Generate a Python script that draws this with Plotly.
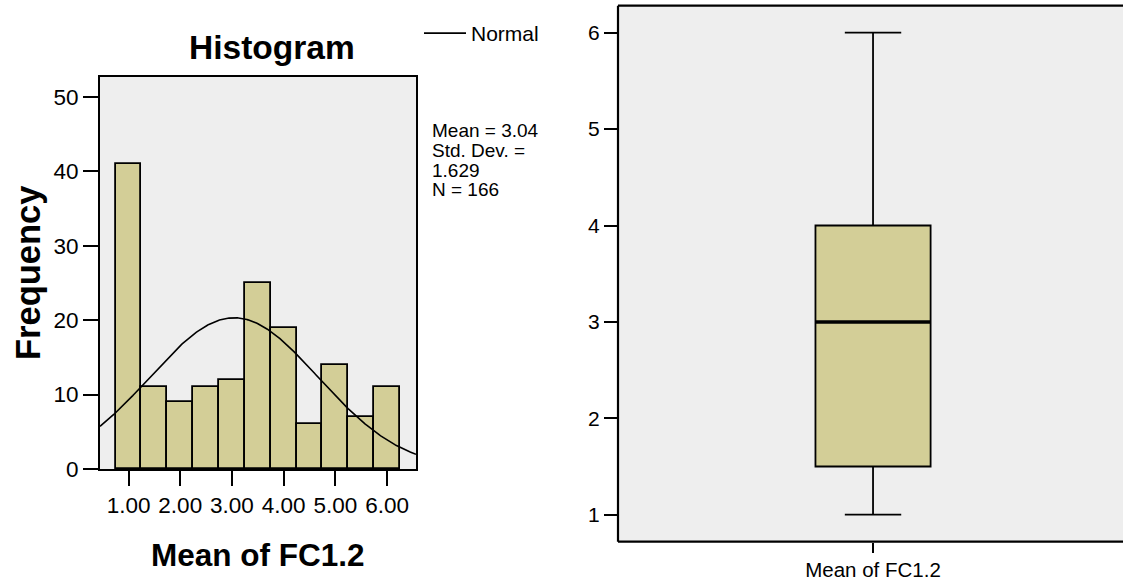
import numpy as np
import plotly.graph_objects as go

# ---------------- data ----------------
bin_centers = [1.0, 1.5, 2.0, 2.5, 3.0, 3.5, 4.0, 4.5, 5.0, 5.5, 6.0]
frequencies = [41, 11, 9, 11, 12, 25, 19, 6, 14, 7, 11]
BIN_WIDTH = 0.5
MEAN = 3.04
SD = 1.629
N = 166
hist_xticks = [1, 2, 3, 4, 5, 6]
hist_yticks = [0, 10, 20, 30, 40, 50]

box_category = ["Mean of FC1.2"]
box_min = [1.0]
box_q1 = [1.5]
box_median = [3.0]
box_q3 = [4.0]
box_max = [6.0]
box_yticks = [1, 2, 3, 4, 5, 6]

stats_lines = ["Mean = 3.04", "Std. Dev. =", "1.629", "N = 166"]

# ---------------- style ----------------
W, H = 1123, 580
BAR_FILL = "rgb(211,206,151)"
BG = "rgb(238,238,238)"
FONT = "Liberation Sans, Arial, sans-serif"
HIST_XRANGE = [0.448, 6.56]
HIST_YRANGE = [0, 52.7]
BOX_WIDTH = 0.228
BOX_LEFT, BOX_TOP, BOX_BOTTOM = 618, 5.7, 541.7


def px_x(p):
    return p / W


def px_y(p):
    return 1 - p / H


# normal curve from the reported statistics
curve_x = np.linspace(HIST_XRANGE[0], HIST_XRANGE[1], 300)
curve_y = N * BIN_WIDTH * np.exp(-0.5 * ((curve_x - MEAN) / SD) ** 2) / (SD * np.sqrt(2 * np.pi))

fig = go.Figure()

fig.add_trace(go.Bar(
    x=bin_centers, y=frequencies, width=BIN_WIDTH,
    marker=dict(color=BAR_FILL, line=dict(color="black", width=1.8)),
    xaxis="x", yaxis="y", showlegend=False, hoverinfo="x+y",
))
fig.add_trace(go.Scatter(
    x=curve_x, y=curve_y, mode="lines", name="Normal",
    line=dict(color="black", width=1.6),
    xaxis="x", yaxis="y", showlegend=True,
))

fig.add_trace(go.Box(
    x=box_category, q1=box_q1, median=box_median, q3=box_q3,
    lowerfence=box_min, upperfence=box_max,
    width=BOX_WIDTH, whiskerwidth=0.49, boxpoints=False,
    fillcolor=BAR_FILL, line=dict(color="black", width=1.8),
    xaxis="x2", yaxis="y2", showlegend=False,
))

# thicker median line (SPSS style)
fig.add_shape(type="line", xref="x2", yref="y2",
              x0=-BOX_WIDTH / 2, x1=BOX_WIDTH / 2,
              y0=box_median[0], y1=box_median[0],
              line=dict(color="black", width=3.5))
# box panel frame: top, bottom and left lines only (panel runs past the right edge)
for yy in (BOX_TOP, BOX_BOTTOM):
    fig.add_shape(type="line", xref="paper", yref="paper",
                  x0=px_x(BOX_LEFT), x1=1.0, y0=px_y(yy), y1=px_y(yy),
                  line=dict(color="black", width=2.2))
fig.add_shape(type="line", xref="paper", yref="paper",
              x0=px_x(BOX_LEFT), x1=px_x(BOX_LEFT), y0=px_y(BOX_BOTTOM), y1=px_y(BOX_TOP),
              line=dict(color="black", width=2.2))

axis_common = dict(linecolor="black", linewidth=2,
                   ticks="outside", tickcolor="black", tickwidth=2.2,
                   showgrid=False, zeroline=False)

fig.update_layout(
    width=W, height=H, autosize=False,
    margin=dict(l=0, r=0, t=0, b=0, autoexpand=False),
    paper_bgcolor="white", plot_bgcolor=BG,
    bargap=0,
    xaxis=dict(domain=[px_x(100), px_x(416)], range=HIST_XRANGE,
               tickvals=hist_xticks, tickformat=".2f", mirror=True, showline=True,
               ticklen=15, anchor="y", **axis_common,
               tickfont=dict(family=FONT, color="black", size=22.5)),
    yaxis=dict(domain=[px_y(469), px_y(77)], range=HIST_YRANGE,
               tickvals=hist_yticks, mirror=True, showline=True, ticklen=15, anchor="x",
               **axis_common,
               tickfont=dict(family=FONT, color="black", size=22.5)),
    xaxis2=dict(domain=[px_x(BOX_LEFT), 1.0], range=[-0.505, 0.495], mirror=False,
                showline=False, ticklen=10, anchor="y2", **axis_common,
                tickfont=dict(family=FONT, color="black", size=20.5)),
    yaxis2=dict(domain=[px_y(BOX_BOTTOM), px_y(BOX_TOP)], range=[0.72, 6.28],
                tickvals=box_yticks, mirror=False, showline=False, ticklen=13, anchor="x2",
                **axis_common,
                tickfont=dict(family=FONT, color="black", size=21)),
    legend=dict(x=px_x(419), y=px_y(13), xanchor="left", yanchor="top",
                bgcolor="rgba(0,0,0,0)", borderwidth=0, itemwidth=42,
                font=dict(family=FONT, size=21, color="black")),
)

annotations = [
    dict(text="Histogram", x=px_x(272), y=px_y(48), xref="paper", yref="paper",
         showarrow=False, xanchor="center", yanchor="middle",
         font=dict(family=FONT, size=33.5, color="black", weight="bold")),
    dict(text="Frequency", x=px_x(28), y=px_y(273), xref="paper", yref="paper",
         showarrow=False, xanchor="center", yanchor="middle", textangle=-90,
         font=dict(family=FONT, size=34.5, color="black", weight="bold")),
    dict(text="Mean of FC1.2", x=px_x(258), y=px_y(555), xref="paper", yref="paper",
         showarrow=False, xanchor="center", yanchor="middle",
         font=dict(family=FONT, size=31.5, color="black", weight="bold")),
]
for i, line in enumerate(stats_lines):
    annotations.append(dict(
        text=line, x=px_x(430), y=px_y(130.5 + 19.8 * i), xref="paper", yref="paper",
        showarrow=False, xanchor="left", yanchor="middle",
        font=dict(family=FONT, size=19, color="black")))
fig.update_layout(annotations=annotations)

fig.write_html(
    "out.html",
    config={"displayModeBar": False, "responsive": False},
    default_width="1123px", default_height="580px",
    post_script="document.body.style.margin='0';document.body.style.overflow='hidden';",
)
